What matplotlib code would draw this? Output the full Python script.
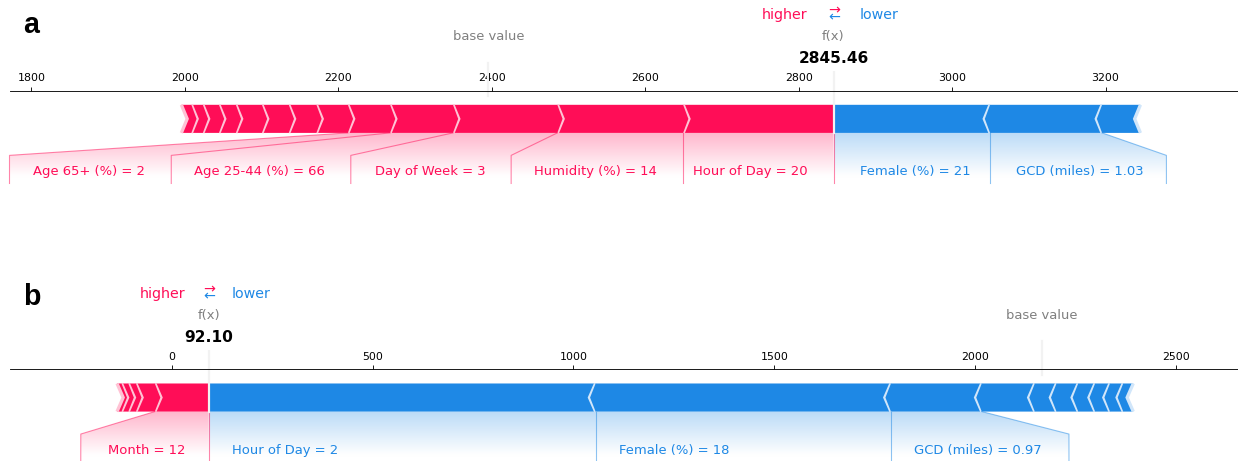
import numpy as np
import matplotlib
matplotlib.use("Agg")
import matplotlib.pyplot as plt
from matplotlib import lines
from matplotlib.path import Path
from matplotlib.patches import PathPatch, Polygon
from matplotlib.colors import LinearSegmentedColormap

RED, RED_LIGHT = "#FF0D57", "#FFC3D5"
BLUE, BLUE_LIGHT = "#1E88E5", "#D1E6FA"

# panel a
base_a = 2395.46
pos_names_a = ["Hour of Day", "Humidity (%)", "Day of Week", "Age 25-44 (%)", "Age 65+ (%)"]
pos_values_a = ["20", "14", "3", "66", "2"]
pos_shap_a = [196, 164, 136, 82, 55, 41, 36, 35, 34, 22, 21, 15, 13]
neg_names_a = ["Female (%)", "GCD (miles)"]
neg_values_a = ["21", "1.03"]
neg_shap_a = [-204, -146, -50]

# panel b
base_b = 2165.10
pos_names_b = ["Month"]
pos_values_b = ["12"]
pos_shap_b = [134, 47, 19, 17, 11]
neg_names_b = ["Hour of Day", "Female (%)", "GCD (miles)"]
neg_values_b = ["2", "18", "0.97"]
neg_shap_b = [-963, -735, -226, -132, -54, -54, -42, -37, -33, -25]

DPI = 79
W, H = 1238, 461


def draw_bars(ax, out_value, bounds, kind, width_sep, width_bar=0.1):
    pre_val = out_value
    for i, b in enumerate(bounds):
        if kind == "positive":
            left, right = b, pre_val
            indent = abs(width_sep)
            sep_pos = left
            c, cl = RED, RED_LIGHT
        else:
            left, right = pre_val, b
            indent = -abs(width_sep)
            sep_pos = right
            c, cl = BLUE, BLUE_LIGHT
        pre_val = b
        if i == 0:
            if kind == "positive":
                pts = [[left, 0], [right, 0], [right, width_bar], [left, width_bar],
                       [left + indent, width_bar / 2]]
            else:
                pts = [[right, 0], [left, 0], [left, width_bar], [right, width_bar],
                       [right + indent, width_bar / 2]]
        else:
            pts = [[left, 0], [right, 0], [right + indent * 0.9, width_bar / 2],
                   [right, width_bar], [left, width_bar], [left + indent * 0.9, width_bar / 2]]
        ax.add_patch(Polygon(pts, closed=True, fill=True, facecolor=c, linewidth=0))
        sep = [[sep_pos, 0], [sep_pos + indent, width_bar / 2], [sep_pos, width_bar]]
        ax.add_patch(Polygon(sep, closed=False, fill=False, edgecolor=cl, lw=3))


def draw_labels(fig, ax, out_value, bounds, texts, kind, offset_text):
    if kind == "positive":
        color, ha, sign = RED, "right", 1
        ax.add_line(lines.Line2D([out_value, out_value], [0, -0.18], lw=1., alpha=0.5,
                                 color=color, clip_on=False))
    else:
        color, ha, sign = BLUE, "left", -1

    start_text = out_value
    pre_val = out_value
    box_end = out_value
    for val, text in zip(bounds, texts):
        t = ax.text(start_text - sign * offset_text, -0.15, text, fontsize=12,
                    color=color, ha=ha, va="baseline")
        t.set_bbox(dict(facecolor="none", edgecolor="none"))
        fig.canvas.draw()
        box = t.get_bbox_patch().get_extents().transformed(ax.transData.inverted())
        box_end_ = box.x0 if kind == "positive" else box.x1
        if box_end_ > ax.get_xlim()[1]:
            t.remove()
            break
        if sign * box_end_ > sign * val:
            ax.add_line(lines.Line2D([val, val], [0, -0.18], lw=1., alpha=0.5,
                                     color=color, clip_on=False))
            start_text = val
            box_end = val
        else:
            box_end = box_end_ - sign * offset_text
            ax.add_line(lines.Line2D([val, box_end, box_end], [0, -0.08, -0.18], lw=1.,
                                     alpha=0.5, color=color, clip_on=False))
            start_text = box_end
        pre_val = val

    path = Path([[out_value, 0], [pre_val, 0], [box_end, -0.08],
                 [box_end, -0.2], [out_value, -0.2], [out_value, 0]])
    patch = PathPatch(path, facecolor="none", edgecolor="none")
    ax.add_patch(patch)

    lo, hi = ax.get_xlim()
    if box_end < lo:
        ax.set_xlim(box_end, hi)
    if box_end > hi:
        ax.set_xlim(lo, box_end)

    if kind == "positive":
        cols = np.array([(255, 13, 87), (255, 255, 255)]) / 255.
    else:
        cols = np.array([(30, 136, 229), (255, 255, 255)]) / 255.
    cm = LinearSegmentedColormap.from_list("cm", cols)
    _, Z2 = np.meshgrid(np.linspace(0, 10), np.linspace(-10, 10))
    im = ax.imshow(Z2, interpolation="quadric", cmap=cm, vmax=0.01, alpha=0.3,
                   origin="lower", extent=[out_value, box_end, 0, -0.31],
                   clip_on=True, aspect="auto")
    im.set_clip_path(patch)


def force_plot(fig, ax, base, pos_shap, pos_names, pos_values, neg_shap, neg_names, neg_values):
    out_value = base + sum(pos_shap) + sum(neg_shap)
    pos_bounds = out_value - np.cumsum(np.abs(pos_shap))
    neg_bounds = out_value + np.cumsum(np.abs(neg_shap))
    total_pos = pos_bounds.max() - pos_bounds.min()
    total_neg = neg_bounds.max() - neg_bounds.min()
    offset_text = (abs(total_neg) + abs(total_pos)) * 0.04

    ax.set_ylim(-0.5, 0.15)
    padding = max(abs(total_pos) * 0.2, abs(total_neg) * 0.2)
    ax.set_xlim(min(pos_bounds.min(), base) - padding, max(neg_bounds.max(), base) + padding)
    ax.tick_params(top=True, bottom=False, left=False, right=False, labelleft=False,
                   labeltop=True, labelbottom=False)
    ax.locator_params(axis="x", nbins=12)
    for key, spine in ax.spines.items():
        if key != "top":
            spine.set_visible(False)
    ax.set_facecolor("none")

    width_sep = (ax.get_xlim()[1] - ax.get_xlim()[0]) / 200
    draw_bars(ax, out_value, neg_bounds, "negative", width_sep)
    draw_bars(ax, out_value, pos_bounds, "positive", width_sep)

    neg_texts = [n + " = " + v for n, v in zip(neg_names, neg_values)]
    pos_texts = [n + " = " + v for n, v in zip(pos_names, pos_values)]
    draw_labels(fig, ax, out_value, neg_bounds, neg_texts, "negative", offset_text)
    draw_labels(fig, ax, out_value, pos_bounds, pos_texts, "positive", offset_text)

    # higher / lower legend
    ax.text(out_value - offset_text, 0.405, "higher", fontsize=13, color=RED, ha="right")
    ax.text(out_value + offset_text, 0.405, "lower", fontsize=13, color=BLUE, ha="left")
    ax.text(out_value, 0.4, r"$\leftarrow$", fontsize=13, color=BLUE, ha="center")
    ax.text(out_value, 0.425, r"$\rightarrow$", fontsize=13, color=RED, ha="center")

    # base value
    ax.add_line(lines.Line2D([base, base], [0.13, 0.25], lw=2., color="#F2F2F2", clip_on=False))
    t = ax.text(base, 0.33, "base value", fontsize=12, alpha=0.5, ha="center")
    t.set_bbox(dict(facecolor="white", edgecolor="white"))

    # output value
    ax.add_line(lines.Line2D([out_value, out_value], [0, 0.24], lw=2., color="#F2F2F2",
                             clip_on=False))
    t = ax.text(out_value, 0.25, "{0:.2f}".format(out_value), fontweight="bold",
                fontsize=14, ha="center")
    t.set_bbox(dict(facecolor="white", edgecolor="white"))
    t = ax.text(out_value, 0.33, "f(x)", fontsize=12, alpha=0.5, ha="center")
    t.set_bbox(dict(facecolor="white", edgecolor="white"))


fig = plt.figure(figsize=((W + 0.3) / DPI, (H + 0.3) / DPI), dpi=DPI)
ax_h = 182.5 / H
ax_a = fig.add_axes([9.5 / W, 1 - 273.5 / H, 1231 / W, ax_h])
ax_b = fig.add_axes([9.5 / W, 1 - 552 / H, 1231 / W, ax_h])

force_plot(fig, ax_a, base_a, pos_shap_a, pos_names_a, pos_values_a,
           neg_shap_a, neg_names_a, neg_values_a)
force_plot(fig, ax_b, base_b, pos_shap_b, pos_names_b, pos_values_b,
           neg_shap_b, neg_names_b, neg_values_b)

fig.text(23 / W, 1 - 33 / H, "a", fontsize=26, fontweight="bold", family="Liberation Sans")
fig.text(23 / W, 1 - 305 / H, "b", fontsize=26, fontweight="bold", family="Liberation Sans")

fig.savefig("out.png", dpi=DPI)
